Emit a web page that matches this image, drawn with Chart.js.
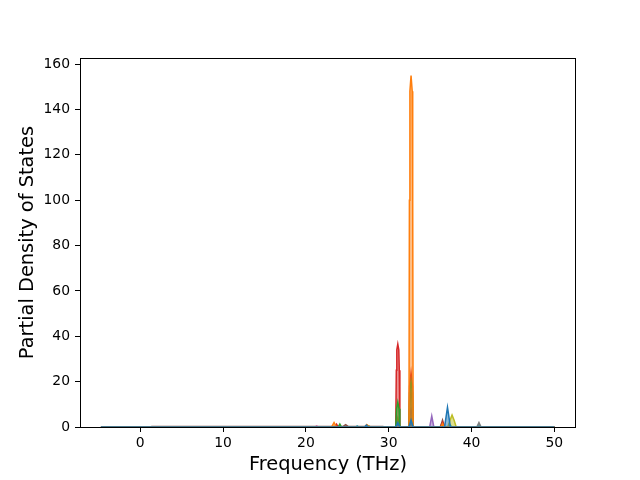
<!DOCTYPE html>
<html>
<head>
<meta charset="utf-8">
<script src="https://cdn.jsdelivr.net/npm/chart.js@4"></script>
<style>
html,body{margin:0;padding:0;background:#fff;}
#wrap{width:640px;height:480px;}
</style>
</head>
<body>
<div id="wrap"><canvas id="c" width="640" height="480"></canvas></div>
<script>
// Data (frequency in THz, PDOS)
const seriesNames = ['s1','s2','s3','s4','s5','s6','s7','s8','s9','s10'];
const xTicks = [0, 10, 20, 30, 40, 50];
const yTicks = [0, 20, 40, 60, 80, 100, 120, 140, 160];

const blueX = [-4.75, 27.1, 27.3, 27.5, 30.85, 31.1, 31.35, 32.45, 32.7, 32.95, 36.75, 36.95, 37.1, 37.25, 37.45, 50];
const blueY = [0, 0, 0.8, 0, 0, 2, 0, 0, 3, 0, 0, 5, 8.7, 5, 0, 0];

const orangeX = [-4.75, 23.1, 23.4, 23.7, 27.1, 27.35, 27.6, 32.45, 32.5, 32.56, 32.7, 32.84, 32.9, 32.95, 36.3, 36.5, 36.7, 50];
const orangeY = [0, 0, 2, 0, 0, 1, 0, 0, 100, 148, 155, 148, 100, 0, 0, 1.5, 0, 0];

const greenX = [-4.75, 23.9, 24.1, 24.3, 30.85, 30.95, 31.1, 31.25, 31.35, 32.45, 32.52, 32.7, 32.88, 32.95, 50];
const greenY = [0, 0, 1.3, 0, 0, 8, 11, 8, 0, 0, 15, 20, 15, 0, 0];

const redX = [-4.75, 23.5, 23.7, 23.9, 30.85, 30.92, 30.98, 31.1, 31.22, 31.28, 31.35, 32.45, 32.52, 32.7, 32.88, 32.95, 36.3, 36.5, 36.7, 50];
const redY = [0, 0, 1.2, 0, 0, 25, 34, 36.5, 34, 25, 0, 0, 18, 24, 18, 0, 0, 2, 0, 0];

const purpleX = [-4.75, 32.45, 32.55, 32.7, 32.85, 32.95, 34.95, 35.2, 35.45, 50];
const purpleY = [0, 0, 5, 7.5, 5, 0, 0, 4.8, 0, 0];

const brownX = [-4.75, 1.2, 1.4, 24.5, 24.8, 25.1, 29.3, 29.5, 36.25, 36.5, 36.75, 50];
const brownY = [0, 0, 0.25, 0.25, 1.0, 0.25, 0.25, 0, 0, 3, 0, 0];

const pinkX = [-4.75, 21.1, 21.3, 21.5, 36.4, 36.6, 36.8, 50];
const pinkY = [0, 0, 0.5, 0, 0, 1.5, 0, 0];

const grayX = [-4.75, 27.2, 27.4, 27.6, 36.2, 36.4, 36.6, 40.65, 40.9, 41.15, 50];
const grayY = [0, 0, 0.8, 0, 0, 1.5, 0, 0, 2, 0, 0];

const oliveX = [-4.75, 27.4, 27.6, 27.8, 30.85, 31.1, 31.35, 32.45, 32.52, 32.7, 32.88, 32.95, 37.15, 37.4, 37.65, 37.9, 38.15, 50];
const oliveY = [0, 0, 0.6, 0, 0, 4, 0, 0, 11, 15, 11, 0, 0, 3, 5.3, 3, 0, 0];

const cyanX = [-4.75, 26.0, 26.2, 26.4, 37.15, 37.4, 37.65, 40.65, 40.9, 41.15, 50];
const cyanY = [0, 0, 0.5, 0, 0, 1, 0, 0, 1.2, 0, 0];

const allX = [blueX, orangeX, greenX, redX, purpleX, brownX, pinkX, grayX, oliveX, cyanX];
const allY = [blueY, orangeY, greenY, redY, purpleY, brownY, pinkY, grayY, oliveY, cyanY];
const colors = ['#1f77b4','#ff7f0e','#2ca02c','#d62728','#9467bd','#8c564b','#e377c2','#7f7f7f','#bcbd22','#17becf'];

function hexA(h, a){
  const r = parseInt(h.slice(1,3),16), g = parseInt(h.slice(3,5),16), b = parseInt(h.slice(5,7),16);
  return 'rgba(' + r + ',' + g + ',' + b + ',' + a + ')';
}

const datasets = seriesNames.map((n, i) => ({
  label: n,
  data: allX[i].map((x, j) => ({x: x, y: allY[i][j]})),
  borderColor: colors[i],
  backgroundColor: hexA(colors[i], 0.5),
  borderWidth: 1.5,
  pointRadius: 0,
  tension: 0,
  fill: 'origin'
}));

const frame = {
  id: 'frame',
  afterDatasetsDraw(chart){
    const a = chart.chartArea, ctx = chart.ctx;
    ctx.save();
    ctx.strokeStyle = '#000';
    ctx.lineWidth = 1;
    ctx.strokeRect(Math.round(a.left) + 0.5, Math.round(a.top) + 0.5, Math.round(a.right - a.left) - 1, Math.round(a.bottom - a.top));
    ctx.restore();
  }
};

const font = "'DejaVu Sans', sans-serif";

new Chart(document.getElementById('c'), {
  type: 'line',
  data: { datasets },
  plugins: [frame],
  options: {
    responsive: false,
    animation: false,
    devicePixelRatio: 1,
    layout: { padding: { top: 58, right: 64, left: 0, bottom: 0 } },
    plugins: { legend: { display: false }, tooltip: { enabled: false } },
    scales: {
      x: {
        type: 'linear',
        min: -7.28, max: 52.62,
        afterBuildTicks(s){ s.ticks = xTicks.map(v => ({value: v})); },
        afterFit(s){ s.height = 53; },
        grid: { display: true, drawOnChartArea: false, drawTicks: true, tickLength: 5, color: '#000', lineWidth: 1 },
        border: { display: false },
        ticks: { color: '#000', font: { family: font, size: 13.9 }, padding: 3, maxRotation: 0, autoSkip: false },
        title: { display: true, text: 'Frequency (THz)', color: '#000', font: { family: font, size: 19.4 }, padding: { top: 0, bottom: 3 } }
      },
      y: {
        type: 'linear',
        min: 0, max: 162.7,
        afterBuildTicks(s){ s.ticks = yTicks.map(v => ({value: v})); },
        afterFit(s){ s.width = 80; },
        grid: { display: true, drawOnChartArea: false, drawTicks: true, tickLength: 5, color: '#000', lineWidth: 1 },
        border: { display: false },
        ticks: { color: '#000', font: { family: font, size: 13.9 }, padding: 5, autoSkip: false },
        title: { display: true, text: 'Partial Density of States', color: '#000', font: { family: font, size: 19.4 }, padding: { top: 16, bottom: 0 } }
      }
    }
  }
});
</script>
</body>
</html>
